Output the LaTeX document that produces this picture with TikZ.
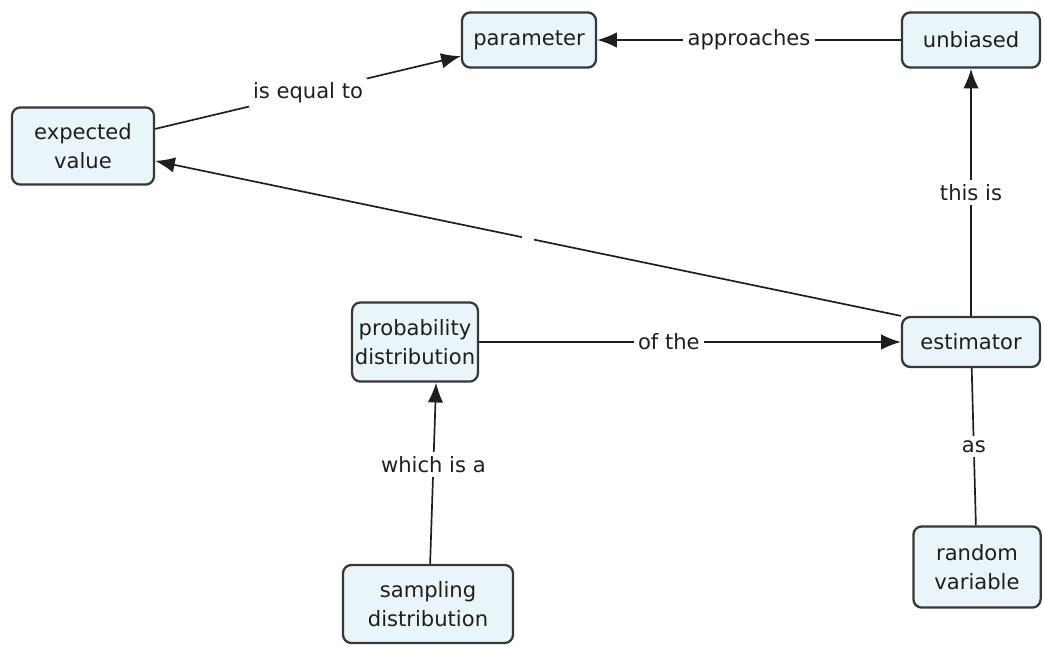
\documentclass[tikz,border=0pt]{standalone}
\usepackage{fontspec}
\setmainfont{DejaVu Sans}
\usepackage{tikz}
\usetikzlibrary{arrows.meta,calc,positioning}

\definecolor{conceptfill}{RGB}{234,245,250}
\definecolor{conceptline}{RGB}{55,55,55}
\definecolor{inktext}{RGB}{30,30,30}

\begin{document}
\begin{tikzpicture}[
  >={Latex[length=14pt,width=11pt]},
  x=0.025cm, y=-0.025cm,     % one unit = one pixel of the map
  concept/.style={rectangle,rounded corners=6pt,draw=conceptline,line width=1.6pt,
    fill=conceptfill,align=center,inner sep=2pt,text=inktext},
  link/.style={line width=1.2pt,draw=inktext},
  lbl/.style={fill=white,inner sep=3pt,text=inktext},
  every node/.style={font=\fontsize{15}{21}\selectfont}
]
\useasboundingbox (0,0) rectangle (1044,645);

% --- concepts
\node[concept,minimum width=3.55cm,minimum height=1.93cm]  (ev)   at (83,146)  {expected\\value};
\node[concept,minimum width=3.35cm,minimum height=1.38cm]  (par)  at (529,40)  {parameter};
\node[concept,minimum width=3.45cm,minimum height=1.38cm]  (unb)  at (971,40)  {unbiased};
\node[concept,minimum width=3.08cm,minimum height=1.98cm]  (prob) at (415,342) {probability\\distribution};
\node[concept,minimum width=3.45cm,minimum height=1.25cm]  (est)  at (971,342) {estimator};
\node[concept,minimum width=4.25cm,minimum height=1.95cm]  (samp) at (428,604) {sampling\\distribution};
\node[concept,minimum width=3.18cm,minimum height=2.03cm]  (rv)   at (977,567) {random\\variable};

% --- links
\draw[link,->] (ev) -- node[lbl] {is equal to} (par);
\draw[link,->] (unb) -- node[lbl] {approaches} (par);
\draw[link,->] (est) -- node[lbl] {this is} (unb);
\draw[link,->] (est.north west) -- node[lbl,inner sep=0pt,minimum width=8pt,minimum height=4pt] {} (ev);
\draw[link,->] (prob) -- node[lbl,pos=0.45] {of the} (est);
\draw[link,->] ([xshift=1.5pt]samp.north) -- node[lbl,pos=0.55] {which is a} ([xshift=15pt]prob.south);
\draw[link] (est) -- node[lbl] {as} (rv);

\end{tikzpicture}
\end{document}
